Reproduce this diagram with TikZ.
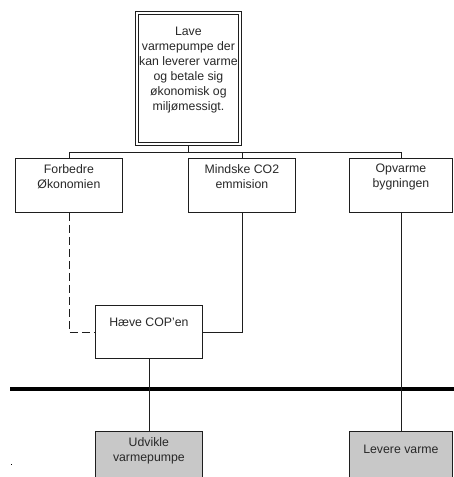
\documentclass[tikz,border=0pt]{standalone}
\usepackage{fontspec}
\setmainfont{Liberation Sans}
\definecolor{boxgray}{RGB}{200,200,200}
\definecolor{linecol}{RGB}{30,30,30}
\definecolor{txtcol}{RGB}{40,40,40}
\newcommand{\bxt}[4]{\parbox[c][#2pt][t]{#1pt}{\centering\vspace*{#3pt}#4}}
\begin{document}
\begin{tikzpicture}[x=1pt,y=-1pt,
  font=\fontsize{12.3}{15}\selectfont, text=txtcol,
  box/.style={draw=linecol, line width=0.8pt, rectangle, inner sep=0pt, anchor=north west},
  graybox/.style={box, fill=boxgray},
  conn/.style={draw=linecol, line width=0.8pt},
  dashconn/.style={conn, dash pattern=on 8pt off 4pt}]
\useasboundingbox (0,0) rectangle (454,477);
\clip (0,0) rectangle (454,477);
\fill[white] (0,0) rectangle (454,477);
% top box
\node[box] (top) at (135,11)
  {\bxt{106}{134}{15.5}{Lave\\ varmepumpe der\\ kan leverer varme\\ og betale sig\\ økonomisk og\\ miljømessigt.}};
\draw[linecol, line width=0.8pt] ([shift={(3.2,3.2)}]top.north west) rectangle ([shift={(-3.2,-3.2)}]top.south east);
% second row
\node[box] (f1) at (15,158) {\bxt{107}{54}{6}{Forbedre\\ Økonomien}};
\node[box] (f2) at (188,158) {\bxt{107}{54}{6}{Mindske CO2\\ emmision}};
\node[box] (f3) at (349,158) {\bxt{103}{54}{6}{Opvarme\\ bygningen}};
% middle
\node[box] (cop) at (95,305) {\bxt{107}{53}{13}{Hæve COP'en}};
% bottom
\node[graybox] (udv) at (95,431) {\bxt{107}{54}{6.5}{Udvikle\\ varmepumpe}};
\node[graybox] (lev) at (349,431) {\bxt{103}{54}{13.5}{Levere varme}};
% bus line
\coordinate (bus) at (0,152);
\draw[conn] (f1.north) |- (f3.north |- bus) -- (f3.north);
\draw[conn] (top.south) -- (top.south |- bus);
\draw[conn] (f2.north) -- (f2.north |- bus);
% to cop
\draw[dashconn] (f1.south) |- (cop.west);
\draw[conn] (f2.south) |- (cop.east);
% thick bar
\coordinate (barL) at (10,389);
\coordinate (barR) at (454,389);
\draw[line width=4.5pt] (barL) -- (barR);
\draw[conn] (cop.south) -- (udv.north);
\draw[conn] (f3.south) -- (lev.north);
% stray dot
\fill (10.5,463.5) rectangle (12,465);
\end{tikzpicture}
\end{document}
